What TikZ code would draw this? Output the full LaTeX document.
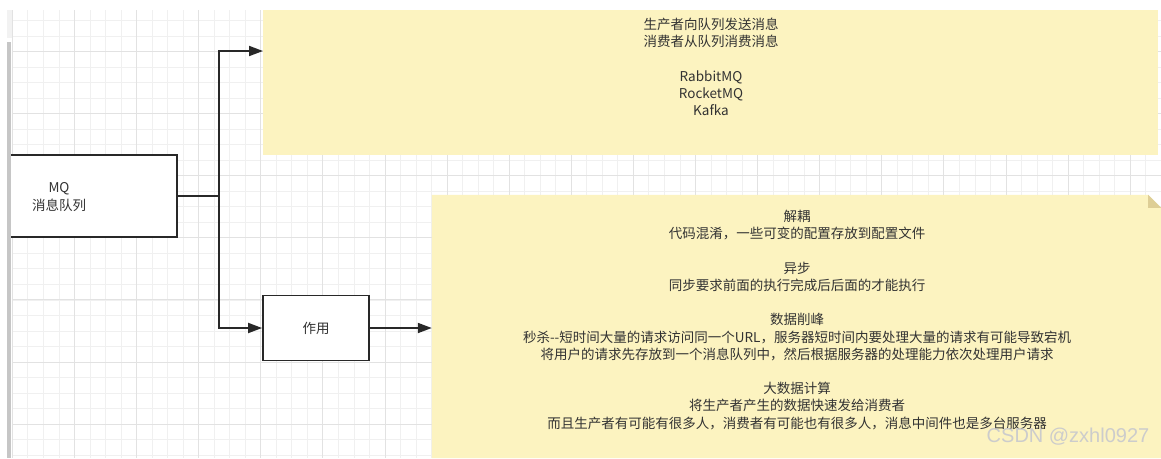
\documentclass[tikz,border=0pt]{standalone}
\usepackage{fontspec}
\setmainfont{Noto Sans CJK SC}
\newfontfamily\wmfont{Liberation Sans}
\usetikzlibrary{arrows.meta,calc}
\definecolor{notefill}{RGB}{252,243,192}
\definecolor{foldfill}{RGB}{222,206,150}
\definecolor{linec}{RGB}{40,40,40}
\definecolor{textc}{RGB}{50,50,50}
\definecolor{gridminor}{RGB}{240,240,240}
\definecolor{gridmajor}{RGB}{226,226,226}
\tikzset{
  boxnode/.style={draw=linec, line width=1.8pt, fill=white, inner sep=0pt},
  conn/.style={draw=linec, line width=1.8pt},
  arr/.style={conn, -{Triangle[length=14pt,width=10pt]}},
  txt/.style={text=textc, align=center, inner sep=0pt, font=\fontsize{13.5}{17.2}\selectfont},
}
\begin{document}
\begin{tikzpicture}[x=1pt,y=-1pt]
\useasboundingbox (0,0) rectangle (1161,458);
\fill[white] (0,0) rectangle (1161,458);
% grid
\foreach \k in {0,...,73} \draw[gridminor, line width=0.9pt] ({12.4+15.525*\k},10) -- ({12.4+15.525*\k},458);
\foreach \k in {1,...,29} \draw[gridminor, line width=0.9pt] (12,{5.0+15.525*\k}) -- (1161,{5.0+15.525*\k});
\foreach \k in {0,...,18} \draw[gridmajor, line width=1pt] ({12.4+62.1*\k},10) -- ({12.4+62.1*\k},458);
\foreach \k in {0,...,6} \draw[gridmajor, line width=1pt] (12,{51.5+62.1*\k}) -- (1161,{51.5+62.1*\k});
% top note
\node[fill=notefill, minimum width=895pt, minimum height=145pt, inner sep=0pt] (top) at (710.5,82.5) {};
\node[txt] (toptext) at (711,67) {生产者向队列发送消息\\消费者从队列消费消息\\[17.2pt]RabbitMQ\\RocketMQ\\Kafka};
% bottom note
\node[minimum width=729pt, minimum height=263pt, inner sep=0pt] (note) at (796.5,326.5) {};
\fill[notefill] (note.north west) -- ($(note.north east)+(-13,0)$) -- ($(note.north east)+(0,13)$) -- (note.south east) -- (note.south west) -- cycle;
\fill[foldfill] ($(note.north east)+(-13,0)$) -- ($(note.north east)+(-13,13)$) -- ($(note.north east)+(0,13)$) -- cycle;
\node[txt] (bottext) at (797,320) {解耦\\代码混淆，一些可变的配置存放到配置文件\\[17.2pt]异步\\同步要求前面的执行完成后后面的才能执行\\[17.2pt]数据削峰\\秒杀{-}{-}短时间大量的请求访问同一个URL，服务器短时间内要处理大量的请求有可能导致宕机\\将用户的请求先存放到一个消息队列中，然后根据服务器的处理能力依次处理用户请求\\[17.2pt]大数据计算\\将生产者产生的数据快速发给消费者\\而且生产者有可能有很多人，消费者有可能也有很多人，消息中间件也是多台服务器};
% boxes
\node[boxnode, minimum width=236pt, minimum height=82pt] (mq) at (59,196) {};
\node[txt] (mqtext) at (59,197) {MQ\\消息队列};
\node[boxnode, minimum width=106pt, minimum height=65pt] (zy) at (316,328) {};
\node[txt] (zytext) at (316,328) {作用};
% left edge cover
\fill[white] (0,0) rectangle (7,458);
\fill[white] (0,0) rectangle (12,10);
\fill[gray!10] (7,10) rectangle (12,38);
\fill[white] (7,38) rectangle (12,42);
\fill[gray!45] (7,42) rectangle (11,458);
% connectors
\coordinate (j) at (219,196);
\coordinate (topin) at (263,51);
\draw[conn] (mq.east) -- (j);
\draw[arr] (j) |- (topin);
\draw[arr] (j) |- (zy.west);
\draw[arr] (zy.east) -- (zy.east -| note.west);
% watermark
\node[text=gray!40, font=\wmfont\fontsize{20}{20}\selectfont, inner sep=0pt] (wm) at (1068,437) {CSDN @zxhl0927};
\end{tikzpicture}
\end{document}
